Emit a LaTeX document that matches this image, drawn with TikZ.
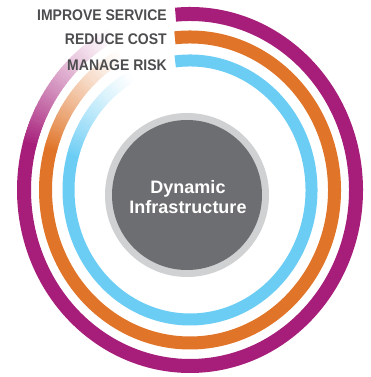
\documentclass[tikz,border=0pt]{standalone}
\usepackage{fontspec}
\setmainfont{Liberation Sans}
\usepackage{tikz}
\definecolor{ringpurple}{RGB}{166,30,122}
\definecolor{ringorange}{RGB}{224,116,40}
\definecolor{ringblue}{RGB}{108,205,244}
\definecolor{hubdark}{RGB}{109,110,113}
\definecolor{hublight}{RGB}{208,209,211}
\definecolor{labelgray}{RGB}{77,77,79}

\begin{document}
\begin{tikzpicture}[x=1pt,y=1pt,
  goal/.style={anchor=base east, inner sep=0pt, yscale=1.1, text=labelgray, font=\fontsize{14}{16}\selectfont\bfseries},
  ring/.style={line cap=butt}]
\useasboundingbox (0,0) rectangle (370,377);
\coordinate (c) at (190,187);

% Hub
\fill[hublight] (187,182) circle (82);
\fill[hubdark] (187,182) circle (75);
\node[text=white, align=center, font=\fontsize{18}{20}\selectfont\bfseries] (hub) at (188,179.5) {Dynamic\\Infrastructure};

% Rings
\foreach \col/\rx/\ry/\lw/\st in {ringpurple/166/176/14/95, ringorange/144.5/153/13/96, ringblue/121.5/129.5/12/97}{
  \draw[ring, \col, line width=\lw] (c) ++({\st}:{\rx} and {\ry}) arc[start angle=\st, end angle=-195, x radius=\rx, y radius=\ry];
  \foreach \i in {0,...,47}{
    \pgfmathtruncatemacro\p{100*(1-\i/48)^1.3}
    \draw[ring, \col!\p!white, line width=\lw] (c) ++({165.3-\i}:{\rx} and {\ry}) arc[start angle=165.3-\i, end angle=163.8-\i, x radius=\rx, y radius=\ry];
  }
}

% Labels
\node[goal] (service) at (167,356) {IMPROVE SERVICE};
\node[goal] (cost) at (167,332) {REDUCE COST};
\node[goal] (risk) at (167,306) {MANAGE RISK};
\end{tikzpicture}
\end{document}
